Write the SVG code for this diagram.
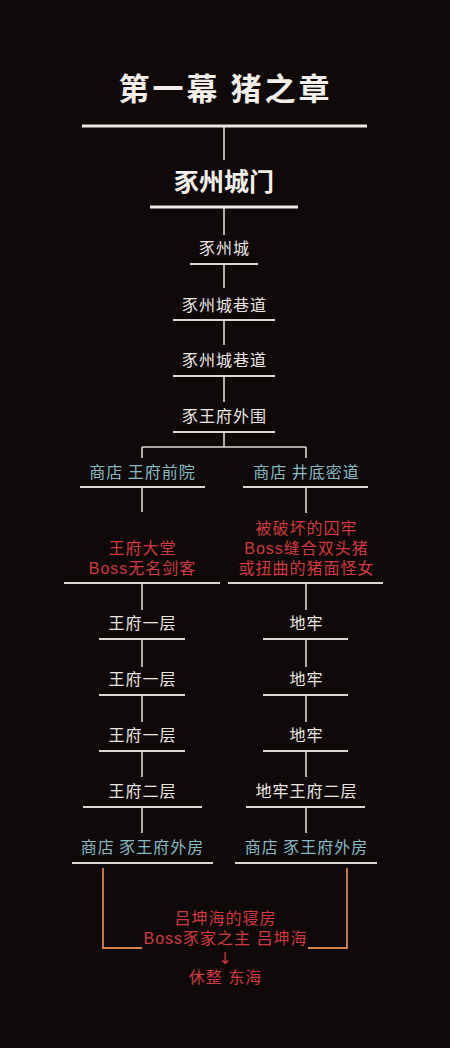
<svg xmlns="http://www.w3.org/2000/svg" width="450" height="1048" viewBox="0 0 450 1048">
<style>
text{font-family:"Noto Sans CJK SC","Noto Sans",sans-serif;text-anchor:middle;}
.w,.c,.r{font-size:16px;letter-spacing:1px;}
.w{fill:#ece6e2;}
.c{fill:#86b9c2;}
.r{fill:#cf3a3e;font-family:"Liberation Sans","Noto Sans CJK SC",sans-serif;}
.ar{fill:#cf3a3e;font-family:"DejaVu Sans",sans-serif;font-size:16px;}
.ul{stroke:#ddd6d2;stroke-width:1.8;fill:none;}
.ut{stroke:#eee8e4;stroke-width:3;fill:none;}
.cn{stroke:#ddd6d2;stroke-width:1.6;fill:none;}
.or{stroke:#d4844e;stroke-width:1.8;fill:none;}
</style>
<rect width="450" height="1048" fill="#0f0909"/>
<g id="connectors">
<path class="cn" d="M224 126V160M224 207V235M224 264V288M224 320V345M224 376V402M224 432V447M142 447H306M142 447V458M306 447V458"/>
<path class="cn" d="M142 487V512M306 487V513M142 583V610M306 583V610M142 639V667M306 639V667M142 695V722M306 695V722M142 751V777M306 751V777M142 807V833M306 807V833"/>
<path class="or" d="M103 868V948H142M347 868V948H308"/>
</g>
<g id="title"><text x="225.5" y="100" style="font-size:31px;font-weight:bold;letter-spacing:3px" fill="#f2eeea">第一幕 猪之章</text><path class="ut" d="M82 126H367"/></g>
<g id="gate"><text x="224" y="191" style="font-size:25px;font-weight:bold" fill="#f2eeea">豕州城门</text><path class="ut" d="M150 207H298"/></g>
<g id="n1"><text class="w" x="224.5" y="254">豕州城</text><path class="ul" d="M190 264H258"/></g>
<g id="n2"><text class="w" x="224.5" y="311">豕州城巷道</text><path class="ul" d="M173 320H275"/></g>
<g id="n3"><text class="w" x="224.5" y="366">豕州城巷道</text><path class="ul" d="M173 376H275"/></g>
<g id="n4"><text class="w" x="224.5" y="422">豕王府外围</text><path class="ul" d="M173 432H275"/></g>
<g id="L1"><text class="c" x="142.5" y="478">商店 王府前院</text><path class="ul" d="M80 487H205"/></g>
<g id="R1"><text class="c" x="306.5" y="478">商店 井底密道</text><path class="ul" d="M243 487H368"/></g>
<g id="L2"><text class="r" x="142.5" y="554">王府大堂</text><text class="r" x="142.5" y="574">Boss无名剑客</text><path class="ul" d="M64 583H220"/></g>
<g id="R2"><text class="r" x="306.5" y="534">被破坏的囚牢</text><text class="r" x="306.5" y="554">Boss缝合双头猪</text><text class="r" x="306.5" y="574">或扭曲的猪面怪女</text><path class="ul" d="M228 583H383"/></g>
<g id="L3"><text class="w" x="142.5" y="629">王府一层</text><path class="ul" d="M99 639H185"/></g>
<g id="R3"><text class="w" x="306.5" y="629">地牢</text><path class="ul" d="M263 639H348"/></g>
<g id="L4"><text class="w" x="142.5" y="685">王府一层</text><path class="ul" d="M99 695H185"/></g>
<g id="R4"><text class="w" x="306.5" y="685">地牢</text><path class="ul" d="M263 695H348"/></g>
<g id="L5"><text class="w" x="142.5" y="741">王府一层</text><path class="ul" d="M99 751H185"/></g>
<g id="R5"><text class="w" x="306.5" y="741">地牢</text><path class="ul" d="M263 751H348"/></g>
<g id="L6"><text class="w" x="142.5" y="797">王府二层</text><path class="ul" d="M83 807H202"/></g>
<g id="R6"><text class="w" x="306.5" y="797">地牢王府二层</text><path class="ul" d="M246 807H365"/></g>
<g id="L7"><text class="c" x="142.5" y="853">商店 豕王府外房</text><path class="ul" d="M72 863H213"/></g>
<g id="R7"><text class="c" x="306.5" y="853">商店 豕王府外房</text><path class="ul" d="M235 863H377"/></g>
<g id="final"><text class="r" x="225.5" y="924">吕坤海的寝房</text><text class="r" x="225.5" y="944">Boss豕家之主 吕坤海</text><text class="ar" x="225" y="964">↓</text><text class="r" x="225.5" y="983">休整 东海</text></g>
</svg>
